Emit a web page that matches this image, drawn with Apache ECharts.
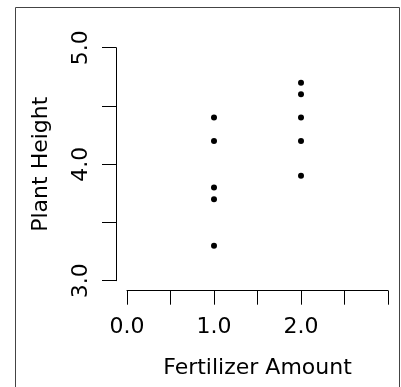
<!DOCTYPE html>
<html>
<head>
<meta charset="utf-8">
<script src="https://cdn.jsdelivr.net/npm/echarts@6/dist/echarts.min.js"></script>
<style>
  html, body { margin: 0; padding: 0; background: #fff; }
  #chart { width: 401px; height: 387px; }
</style>
</head>
<body>
<div id="chart"></div>
<script>
// fertilizer amount per plant and measured height
const fertilizer = [1, 1, 1, 1, 1, 2, 2, 2, 2, 2];
const plantHeight = [4.4, 4.2, 3.8, 3.7, 3.3, 4.7, 4.6, 4.4, 4.2, 3.9];
const xLabels = [0, 1, 2];
const yLabels = [3, 4, 5];

const font = "DejaVu Sans";
const chart = echarts.init(document.getElementById("chart"));

chart.setOption({
  animation: false,
  graphic: [
    {
      type: "rect",
      shape: { x: 15.5, y: 7.5, width: 384, height: 400 },
      style: { fill: "none", stroke: "#444", lineWidth: 1 },
    },
  ],
  grid: { left: 127, right: 13, top: 47.7, bottom: 106.3 },
  xAxis: {
    type: "value",
    min: 0,
    max: 3,
    interval: 0.5,
    offset: 10,
    name: "Fertilizer Amount",
    nameLocation: "middle",
    nameGap: 67,
    nameTextStyle: { fontFamily: font, fontSize: 22, color: "#000" },
    axisLine: { show: true, onZero: false, lineStyle: { color: "#000", width: 1 } },
    axisTick: { show: true, length: 14, lineStyle: { color: "#000", width: 1 } },
    axisLabel: {
      margin: 26,
      fontFamily: font,
      fontSize: 22,
      color: "#000",
      showMaxLabel: true,
      formatter: (v) => (xLabels.includes(v) ? v.toFixed(1) : ""),
    },
    splitLine: { show: false },
  },
  yAxis: {
    type: "value",
    min: 3,
    max: 5,
    interval: 0.5,
    offset: 11,
    name: "Plant Height",
    nameLocation: "middle",
    nameGap: 64,
    nameTextStyle: { fontFamily: font, fontSize: 22, color: "#000" },
    axisLine: { show: true, onZero: false, lineStyle: { color: "#000", width: 1 } },
    axisTick: { show: true, length: 14, lineStyle: { color: "#000", width: 1 } },
    axisLabel: {
      rotate: 90,
      margin: 24,
      fontFamily: font,
      fontSize: 22,
      color: "#000",
      formatter: (v) => (yLabels.includes(v) ? v.toFixed(1) : ""),
    },
    splitLine: { show: false },
  },
  series: [
    {
      type: "scatter",
      data: fertilizer.map((f, i) => [f, plantHeight[i]]),
      symbol: "circle",
      symbolSize: 6,
      itemStyle: { color: "#000", opacity: 1 },
    },
  ],
});
</script>
</body>
</html>
